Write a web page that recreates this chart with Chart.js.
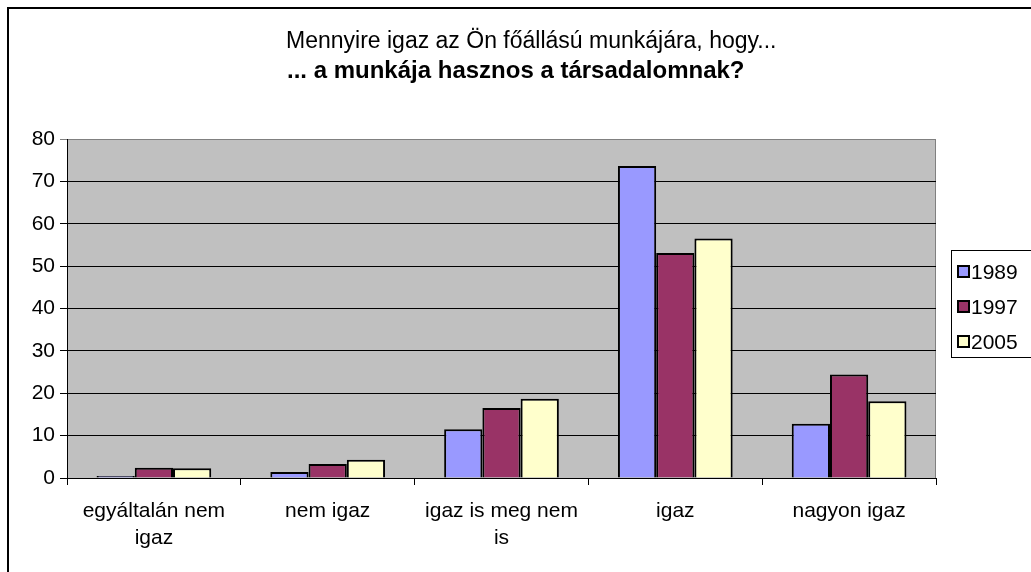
<!DOCTYPE html>
<html lang="hu">
<head>
<meta charset="UTF-8">
<title>Munka hasznos a társadalomnak</title>
<script src="https://cdn.jsdelivr.net/npm/chart.js"></script>
<style>
  html, body { margin: 0; padding: 0; background: #fff; overflow: hidden; }
  #wrap { position: relative; width: 1031px; height: 572px; }
</style>
</head>
<body>
<div id="wrap">
  <canvas id="grafikon" width="1031" height="572"></canvas>
</div>
<script>
// adatok
var kategoriak = [['egyáltalán nem', 'igaz'], 'nem igaz', ['igaz is meg nem', 'is'], 'igaz', 'nagyon igaz'];
var evek = ['1989', '1997', '2005'];
var adat1989 = [0.5, 1.4, 11.5, 73.6, 12.8];
var adat1997 = [2.4, 3.3, 16.5, 53.1, 24.4];
var adat2005 = [2.3, 4.3, 18.7, 56.5, 18.1];
var yTickek = [0, 10, 20, 30, 40, 50, 60, 70, 80];
var cim1 = 'Mennyire igaz az Ön főállású munkájára, hogy...';
var cim2 = '... a munkája hasznos a társadalomnak?';

var szinek = ['#9999FF', '#993366', '#FFFFCC'];
var betu = '"Liberation Sans", Arial, sans-serif';

// szurke hatter, keret, cim es jelmagyarazat
var excelStilus = {
  id: 'excelStilus',
  beforeDraw: function (chart) {
    var ctx = chart.ctx;
    var a = chart.chartArea;
    ctx.save();
    ctx.fillStyle = '#C0C0C0';
    ctx.fillRect(a.left, a.top, a.right - a.left, a.bottom - a.top);
    ctx.strokeStyle = '#808080';
    ctx.lineWidth = 1;
    ctx.strokeRect(a.left + 0.5, a.top + 0.5, a.right - a.left - 1, a.bottom - a.top);
    ctx.restore();
  },
  afterDraw: function (chart) {
    var ctx = chart.ctx;
    ctx.save();
    // kulso keret
    ctx.strokeStyle = '#000';
    ctx.lineWidth = 2;
    ctx.beginPath();
    ctx.moveTo(8, 600);
    ctx.lineTo(8, 8);
    ctx.lineTo(1100, 8);
    ctx.stroke();

    // cim
    ctx.fillStyle = '#000';
    ctx.textBaseline = 'middle';
    ctx.textAlign = 'left';
    ctx.font = '23px ' + betu;
    ctx.fillText(cim1, 286, 42);
    ctx.font = 'bold 24px ' + betu;
    ctx.fillText(cim2, 287, 71);

    // jelmagyarazat
    ctx.lineWidth = 1;
    ctx.strokeStyle = '#000';
    ctx.strokeRect(951.5, 250.5, 100, 107);
    ctx.font = '21px ' + betu;
    chart.data.datasets.forEach(function (ds, i) {
      var y = 272 + i * 35;
      ctx.fillStyle = ds.backgroundColor;
      ctx.fillRect(958, y - 6, 11, 11);
      ctx.lineWidth = 2;
      ctx.strokeRect(958, y - 6, 11, 11);
      ctx.fillStyle = '#000';
      ctx.fillText(ds.label, 971, y + 1);
    });
    ctx.restore();
  }
};

var ctx = document.getElementById('grafikon').getContext('2d');
new Chart(ctx, {
  type: 'bar',
  data: {
    labels: kategoriak,
    datasets: [
      { label: evek[0], data: adat1989, backgroundColor: szinek[0], borderColor: '#000', borderWidth: 2 },
      { label: evek[1], data: adat1997, backgroundColor: szinek[1], borderColor: '#000', borderWidth: 2 },
      { label: evek[2], data: adat2005, backgroundColor: szinek[2], borderColor: '#000', borderWidth: 2 }
    ]
  },
  options: {
    responsive: false,
    animation: false,
    layout: { padding: { left: 0, top: 139, right: 95, bottom: 0 } },
    datasets: { bar: { barPercentage: 1, categoryPercentage: 0.66 } },
    plugins: {
      legend: { display: false },
      title: { display: false },
      tooltip: { enabled: false }
    },
    scales: {
      x: {
        afterFit: function (s) { s.height = 94; },
        grid: { offset: true, drawOnChartArea: false, drawTicks: true, tickLength: 7, color: '#000' },
        border: { color: '#000', width: 1 },
        ticks: { color: '#000', padding: 13, maxRotation: 0, autoSkip: false, font: { family: betu, size: 21, lineHeight: 1.29 } }
      },
      y: {
        min: 0,
        max: 80,
        afterFit: function (s) { s.width = 67; },
        afterBuildTicks: function (s) { s.ticks = yTickek.map(function (v) { return { value: v }; }); },
        grid: {
          color: function (c) { return c.tick && c.tick.value === 80 ? '#808080' : '#000'; },
          lineWidth: 1, drawTicks: true, tickLength: 7
        },
        border: { color: '#000', width: 1 },
        ticks: { color: '#000', padding: 5, font: { family: betu, size: 21 } }
      }
    }
  },
  plugins: [excelStilus]
});
</script>
</body>
</html>
